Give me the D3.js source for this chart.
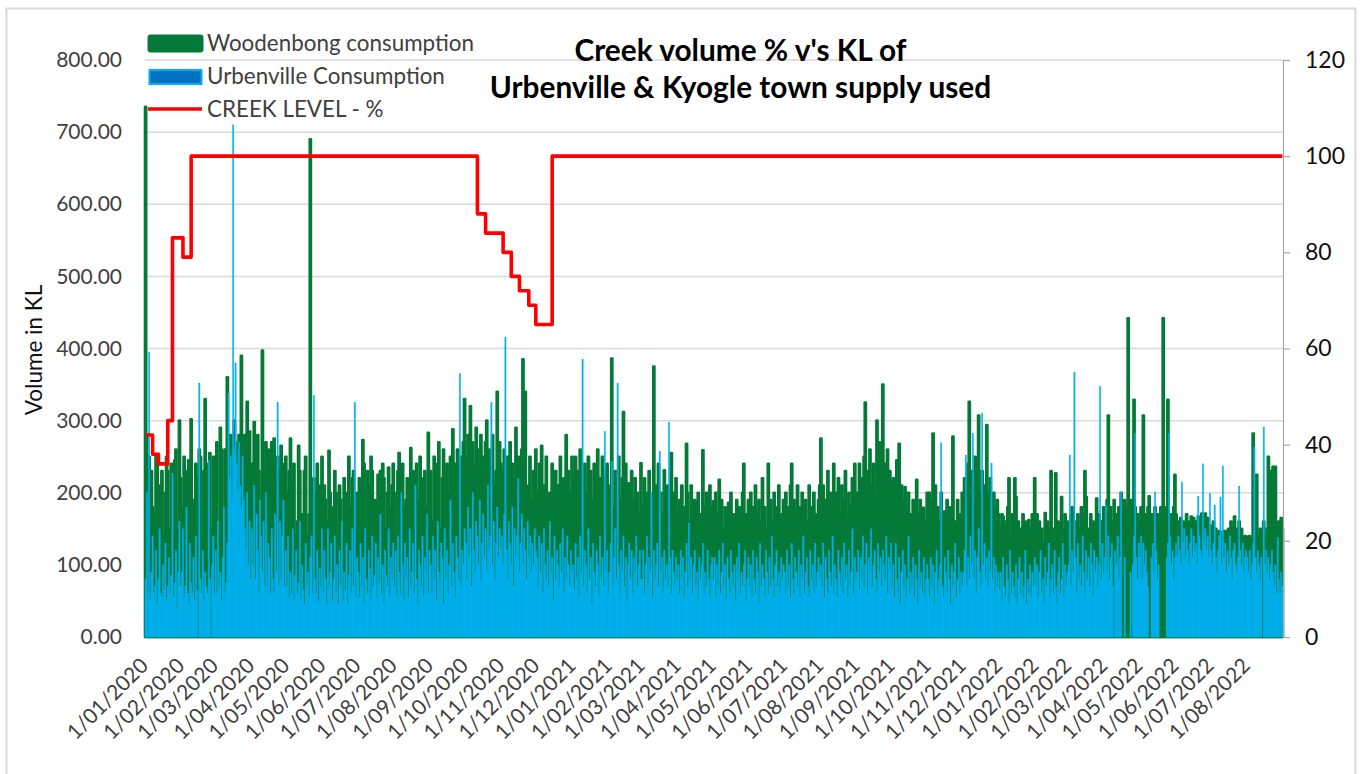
<!DOCTYPE html>
<html><head><meta charset="utf-8">
<script src="https://cdn.jsdelivr.net/npm/d3@7"></script>
<style>
html,body{margin:0;padding:0;background:#fff;}
svg{display:block;font-family:Lato,"Open Sans",sans-serif;}
</style></head><body>
<svg id="chart" width="1362" height="774"></svg>
<script>
// ---------- DATA ----------
const months = ["2020-01","2020-02","2020-03","2020-04","2020-05","2020-06","2020-07","2020-08","2020-09","2020-10","2020-11","2020-12",
"2021-01","2021-02","2021-03","2021-04","2021-05","2021-06","2021-07","2021-08","2021-09","2021-10","2021-11","2021-12",
"2022-01","2022-02","2022-03","2022-04","2022-05","2022-06","2022-07","2022-08"];

// Woodenbong consumption (KL), one inner array per month, one value per day
const woodenbong = [
[735,280,200,250,120,230,180,100,170,250,240,130,90,210,230,140,110,200,250,230,150,120,240,200,130,245,260,150,110,300,220],
[180,130,250,230,140,120,245,210,302,190,110,150,240,220,130,260,250,140,120,230,330,180,120,240,255,150,130,250,210],
[210,270,150,130,290,260,170,140,260,230,360,170,250,280,140,120,300,270,190,150,280,200,390,230,160,280,240,326,150,285,230],
[240,180,298,260,150,280,230,140,190,397,220,150,270,231,260,130,240,270,150,275,210,150,250,230,140,265,240,140,220,250],
[200,150,230,275,120,210,240,90,140,160,265,230,130,170,80,230,250,140,110,170,690,180,120,220,200,100,240,170,110,210,250],
[150,210,190,120,160,258,200,110,130,180,230,200,120,90,210,190,140,120,220,200,100,150,250,180,120,220,230,150,110,200],
[180,220,130,110,273,240,150,110,230,210,140,250,230,120,160,190,100,225,200,230,130,240,220,110,150,200,235,180,120,210,240],
[200,140,120,230,255,120,210,240,180,130,190,220,150,200,262,110,230,200,140,240,190,120,250,220,140,130,230,180,150,283,200],
[230,160,140,250,190,140,240,270,150,120,220,260,230,130,240,200,170,250,150,288,190,240,160,260,210,130,250,200,270,330],
[250,200,280,230,320,180,270,240,160,290,260,170,230,280,200,250,190,270,300,220,260,180,240,280,210,170,230,340,200,270,240],
[230,180,260,210,150,250,200,270,170,240,190,220,290,160,250,210,140,260,385,200,340,170,150,210,250,190,140,230,180,260],
[200,150,240,180,265,130,210,170,250,120,110,200,160,240,190,140,230,170,210,110,250,180,150,220,190,280,140,230,170,200,250],
[220,170,250,140,230,190,260,150,210,180,240,130,200,250,160,230,190,120,240,210,170,260,140,220,180,250,200,230,160,240,190],
[210,160,386,180,120,230,200,150,250,190,140,220,312,170,240,130,213,200,160,230,110,190,220,150,200,170,130,241],
[180,140,220,160,200,120,230,170,150,190,375,130,210,160,240,110,200,170,140,231,180,120,210,150,190,255,130,200,160,220,150],
[170,190,130,210,150,180,120,268,200,160,140,210,170,110,190,188,150,200,130,170,140,259,180,120,200,160,130,210,150,180],
[188,140,200,130,170,218,120,190,150,110,180,160,130,186,140,200,120,170,150,90,190,140,180,120,160,200,240,130,170,110,190],
[150,200,120,180,140,210,100,170,190,130,160,220,120,180,150,110,240,140,190,160,120,200,150,130,180,210,140,170,120,190],
[160,200,130,180,150,210,240,120,190,140,170,210,110,180,150,200,130,170,190,120,160,210,140,180,100,200,150,170,130,190,210],
[275,150,210,130,190,170,230,120,200,160,180,240,140,200,110,220,170,150,210,130,190,230,160,140,200,180,120,220,170,240,190],
[200,160,240,180,220,140,250,325,170,230,190,260,150,210,240,180,200,300,160,270,220,190,350,170,240,200,260,180,230,215],
[180,220,150,200,245,170,268,140,210,160,190,208,130,180,200,150,170,120,190,160,140,218,170,130,190,150,120,179,160,140,200],
[170,200,140,190,282,150,210,130,180,160,120,200,150,170,174,130,190,160,120,180,150,278,140,160,120,190,144,170,130,200],
[180,220,160,200,240,326,190,230,170,210,250,180,220,307,200,160,230,190,210,170,294,200,150,220,180,160,200,180,140,190,170],
[150,120,170,167,110,160,130,180,220,140,100,170,150,220,194,120,160,90,150,130,170,110,160,140,120,162,150,100,170,130,220],
[140,170,120,160,100,150,130,110,172,140,160,120,150,230,130,100,150,227,120,160,140,110,194,150,130,170,120,160],
[150,130,170,180,120,160,140,110,170,130,150,180,120,160,230,194,130,150,110,170,140,160,120,150,192,130,170,110,160,140,180],
[170,150,190,307,140,180,160,120,190,150,170,130,180,160,200,140,170,190,150,180,442,170,160,190,150,329,180,140,170,150],
[160,180,140,307,150,170,130,180,195,150,170,140,160,180,120,170,150,140,180,160,442,170,150,180,329,160,140,170,150,180,225],
[170,150,160,130,165,140,160,120,150,170,140,160,130,167,150,165,140,160,150,167,130,150,171,160,140,171,150,165,140,155],
[150,140,160,130,150,140,120,147,140,145,130,147,140,147,130,150,140,160,135,150,167,140,150,130,160,140,150,130,139,140,139],
[139,130,140,120,135,282,150,160,225,140,130,150,120,145,160,130,140,150,250,200,230,160,236,220,236,150,130,160,140,165,150]
];

// Urbenville consumption (KL), one inner array per month, one value per day
const urbenville = [
[80,200,60,395,50,90,140,60,70,120,45,80,150,60,55,100,65,130,50,70,110,60,85,227,55,75,120,40,90,160,70],
[90,150,55,70,180,60,45,130,75,60,110,50,140,65,0,352,80,60,120,50,90,70,60,245,80,0,100,140,60],
[120,60,160,70,90,50,110,180,60,75,130,338,220,250,190,710,260,380,240,200,270,210,180,250,190,150,120,200,100,160,80],
[150,100,210,80,170,120,60,190,140,90,160,70,200,70,130,110,60,150,80,60,170,90,325,70,160,80,140,190,70,120],
[70,140,55,90,60,150,50,85,120,60,75,160,50,100,65,45,130,70,90,55,110,140,60,335,80,60,120,50,95,70,150],
[60,120,80,45,150,70,90,130,50,80,140,60,100,45,120,70,160,50,90,65,130,45,85,120,60,150,70,325,55,110],
[90,55,130,70,110,45,150,80,60,120,95,50,140,70,85,130,55,110,75,170,60,100,45,120,85,70,150,55,110,80,130],
[70,120,55,140,90,60,200,100,50,130,80,110,55,150,70,90,130,60,210,80,45,120,100,70,140,55,110,90,170,60,120],
[100,60,140,80,120,50,160,90,70,130,110,45,150,80,120,60,100,190,70,130,90,55,140,110,80,365,70,120,100,150],
[130,80,180,110,150,70,200,120,90,160,140,100,190,80,130,170,110,150,90,210,120,140,325,100,160,80,130,180,110,150,120],
[140,100,170,415,120,80,160,130,100,180,70,150,110,140,220,90,130,170,100,150,120,80,160,110,140,90,130,100,150,120],
[110,70,140,90,130,60,150,100,80,120,70,160,90,110,50,140,80,120,100,70,130,90,150,60,110,80,140,100,70,120,90],
[100,65,130,80,110,55,140,90,385,70,120,100,60,150,80,110,45,130,90,70,120,100,55,140,80,110,70,285,90,120,60],
[90,130,243,70,110,150,80,352,100,60,120,90,140,70,110,50,100,130,80,120,60,110,90,140,70,100,120,80],
[80,120,60,100,140,70,110,90,201,55,120,80,100,130,70,257,90,110,60,120,80,100,70,298,110,60,120,90,70,110,80],
[100,60,120,80,110,55,90,130,70,158,80,110,60,100,120,70,90,50,110,80,100,130,60,90,70,120,80,55,100,110],
[80,110,55,100,70,120,60,90,130,70,100,50,110,80,60,120,90,70,100,50,110,80,130,60,90,70,100,120,50,80,110],
[70,100,55,120,80,60,110,90,45,130,70,100,80,55,120,90,60,110,70,140,80,55,100,120,70,90,60,110,80,100],
[90,60,120,70,100,55,130,80,60,110,90,70,120,55,100,80,140,60,90,110,70,55,120,80,100,60,130,70,90,110,80],
[100,70,130,55,110,80,60,120,90,70,140,60,100,80,55,120,90,70,110,60,130,80,100,55,120,70,90,150,60,110,80],
[90,120,65,110,80,140,70,100,130,60,110,90,150,70,100,120,80,60,130,90,110,70,120,100,80,140,60,110,90,130],
[70,100,55,130,80,60,110,45,90,120,70,100,55,80,140,60,90,70,110,55,100,80,45,120,70,90,60,110,55,80,100],
[80,55,110,70,100,45,90,120,60,80,100,269,70,55,110,90,60,120,80,45,100,70,90,130,55,80,110,60,90,70],
[90,120,252,70,110,80,140,100,282,80,120,60,110,150,90,70,310,100,130,80,110,70,120,90,241,80,110,60,100,70,90],
[65,90,50,110,70,55,100,80,45,120,60,90,70,55,100,45,80,110,60,90,55,70,120,45,80,60,100,55,90,70,110],
[70,100,55,90,120,60,80,45,110,70,90,130,55,80,100,60,120,70,45,90,110,60,80,130,55,100,70,90],
[100,252,70,120,90,367,110,60,130,80,100,70,140,90,60,120,80,110,70,130,100,55,120,90,110,70,100,347,80,130,90],
[110,183,90,140,80,110,130,70,0,120,100,140,80,110,201,0,0,110,0,0,0,0,90,0,100,140,282,110,80,130],
[110,140,80,130,100,120,90,70,0,0,110,130,90,201,120,80,100,0,0,0,0,0,0,110,130,282,140,100,120,80,110],
[130,110,140,120,100,215,130,150,110,140,120,100,130,150,110,140,120,130,100,195,140,120,110,240,130,150,120,140,110,199],
[120,100,130,183,110,90,120,140,194,100,237,110,130,90,120,100,140,110,80,120,130,100,90,110,209,120,100,130,90,110,120],
[110,90,120,80,100,130,263,110,90,120,100,80,110,0,291,100,120,90,110,80,100,120,90,70,100,60,138,80,60,90,70]
];

// Creek level (%), value holds from each date until the next one
const creekDates = ["2020-01-01","2020-01-07","2020-01-12","2020-01-20","2020-01-24","2020-02-02","2020-02-09",
"2020-10-11","2020-10-18","2020-11-02","2020-11-09","2020-11-16","2020-11-24","2020-11-30","2020-12-14","2022-08-31"];
const creekLevel = [42,38,36,45,83,79,100,88,84,80,75,72,69,65,100,100];

const xTickLabels = ["1/01/2020","1/02/2020","1/03/2020","1/04/2020","1/05/2020","1/06/2020","1/07/2020","1/08/2020","1/09/2020","1/10/2020","1/11/2020","1/12/2020",
"1/01/2021","1/02/2021","1/03/2021","1/04/2021","1/05/2021","1/06/2021","1/07/2021","1/08/2021","1/09/2021","1/10/2021","1/11/2021","1/12/2021",
"1/01/2022","1/02/2022","1/03/2022","1/04/2022","1/05/2022","1/06/2022","1/07/2022","1/08/2022"];
const leftTicks = [0,100,200,300,400,500,600,700,800];
const rightTicks = [0,20,40,60,80,100,120];
const seriesNames = ["Woodenbong consumption","Urbenville Consumption","CREEK LEVEL - %"];
const titleLines = ["Creek volume % v's KL of","Urbenville & Kyogle town supply used"];
const yAxisTitle = "Volume in KL";

// ---------- CHART ----------
const C = {green:"#057a38", blue:"#00b0f0", blueDark:"#0070c0", red:"#ff0000", grid:"#d9d9d9", text:"#404040"};
const svg = d3.select("#chart");
const plot = {left:145, right:1283, top:60, bottom:637};

const parseMonth = d3.timeParse("%Y-%m");
const parseDay = d3.timeParse("%Y-%m-%d");
const parseTick = d3.timeParse("%d/%m/%Y");

const days = [];
months.forEach((m,i)=>{
  const m0 = parseMonth(m);
  const n = Math.max(woodenbong[i].length, urbenville[i].length);
  for (let j=0;j<n;j++){
    days.push({date:d3.timeDay.offset(m0,j), wb:woodenbong[i][j] ?? 0, ub:urbenville[i][j] ?? 0});
  }
});
const firstDay = days[0].date, lastDay = days[days.length-1].date;

const x = d3.scaleTime()
  .domain([d3.timeHour.offset(firstDay,-12), d3.timeHour.offset(lastDay,12)])
  .range([plot.left, plot.right]);
const dayW = x(d3.timeDay.offset(firstDay,1)) - x(firstDay);
const yL = d3.scaleLinear().domain([0,800]).range([plot.bottom, plot.top]);
const yR = d3.scaleLinear().domain([0,120]).range([plot.bottom, plot.top]);

// outer frame
svg.append("rect").attr("x",6.5).attr("y",8.5).attr("width",1349).attr("height",775)
  .attr("fill","none").attr("stroke","#d9d9d9").attr("stroke-width",2);

// gridlines
svg.append("g").selectAll("line").data(leftTicks).join("line")
  .attr("x1",plot.left).attr("x2",plot.right)
  .attr("y1",d=>yL(d)).attr("y2",d=>yL(d))
  .attr("stroke",C.grid).attr("stroke-width",1.5);

// Woodenbong bars (behind)
svg.append("g").selectAll("rect").data(days).join("rect")
  .attr("x",d=>x(d.date)-dayW/2).attr("width",dayW)
  .attr("y",d=>yL(d.wb)).attr("height",d=>yL(0)-yL(d.wb))
  .attr("fill",C.green).attr("stroke",C.green).attr("stroke-width",2.6)
  .attr("stroke-linejoin","round");

// Urbenville bars (front)
svg.append("g").selectAll("rect").data(days.filter(d=>d.ub>0)).join("rect")
  .attr("x",d=>x(d.date)-dayW/2).attr("width",dayW)
  .attr("y",d=>yL(d.ub)).attr("height",d=>yL(0)-yL(d.ub))
  .attr("fill",C.blue).attr("stroke",C.blue).attr("stroke-width",0.5);

// creek level line
const creek = creekDates.map((d,i)=>({date:parseDay(d), v:creekLevel[i]}));
svg.append("path").datum(creek)
  .attr("d", d3.line().x(d=>x(d.date)).y(d=>yR(d.v)).curve(d3.curveStepAfter))
  .attr("fill","none").attr("stroke",C.red).attr("stroke-width",3.6).attr("stroke-linejoin","round");

// left axis labels
const gL = svg.append("g").attr("transform",`translate(${plot.left},0)`)
  .call(d3.axisLeft(yL).tickValues(leftTicks).tickFormat(d3.format(".2f")).tickSize(0).tickPadding(23));
gL.select(".domain").remove();
gL.selectAll("text").attr("font-size",21).attr("fill",C.text).attr("font-family","Lato");

// right axis
const gR = svg.append("g").attr("transform",`translate(${plot.right},0)`)
  .call(d3.axisRight(yR).tickValues(rightTicks).tickSize(7).tickSizeOuter(0).tickPadding(15));
gR.select(".domain").attr("stroke","#a6a6a6").attr("stroke-width",1.2);
gR.selectAll(".tick line").attr("stroke","#a6a6a6").attr("stroke-width",1.2);
gR.selectAll("text").attr("font-size",23).attr("fill","#111").attr("font-family","Lato");

// x labels
svg.append("g").selectAll("text").data(xTickLabels).join("text")
  .attr("transform",d=>`translate(${x(parseTick(d))+4},667) rotate(-45)`)
  .attr("text-anchor","end").attr("font-size",21).attr("fill",C.text)
  .text(d=>d);

// y axis title
svg.append("text").attr("transform","translate(41.5,350) rotate(-90)")
  .attr("text-anchor","middle").attr("font-size",22.5).attr("fill","#111").text(yAxisTitle);

// title
svg.append("g").selectAll("text").data(titleLines).join("text")
  .attr("x",740.5).attr("y",(d,i)=>i===0?61:97.5)
  .attr("text-anchor","middle").attr("font-weight","bold").attr("font-size",29.8).attr("fill","#000")
  .text(d=>d);

// legend
const lg = svg.append("g");
lg.append("rect").attr("x",148).attr("y",35).attr("width",55).attr("height",17).attr("rx",2)
  .attr("fill",C.green).attr("stroke",C.green).attr("stroke-width",1);
lg.append("rect").attr("x",149.5).attr("y",70).attr("width",52).attr("height",14)
  .attr("fill",C.blueDark).attr("stroke",C.blue).attr("stroke-width",2);
lg.append("line").attr("x1",148).attr("x2",202).attr("y1",109).attr("y2",109)
  .attr("stroke",C.red).attr("stroke-width",3.6);
lg.selectAll("text").data(seriesNames).join("text")
  .attr("x",207).attr("y",(d,i)=>[50.5,83.5,117][i])
  .attr("font-size",22.4).attr("fill",C.text).text(d=>d);
</script>
</body></html>
